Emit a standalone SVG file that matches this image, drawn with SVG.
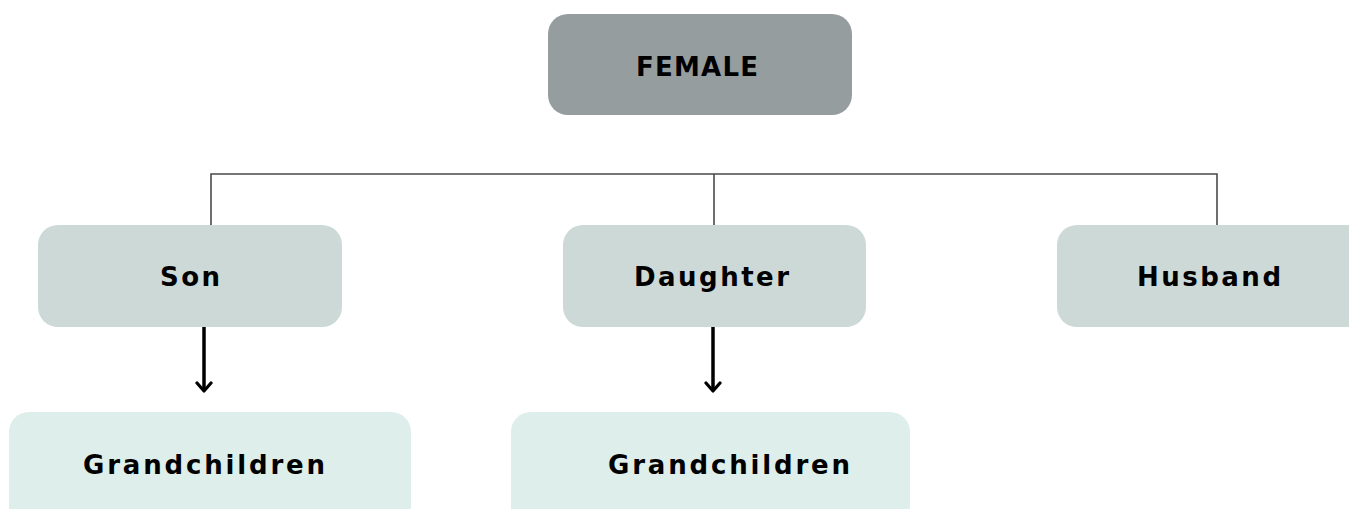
<svg xmlns="http://www.w3.org/2000/svg" width="1349" height="509" viewBox="0 0 1349 509">
<style>
.t{font-family:"DejaVu Sans","Open Sans",sans-serif;font-weight:700;fill:#000;font-size:26px;}
.conn{fill:none;stroke:#4a4a4a;stroke-width:1.6;}
.arr{fill:none;stroke:#000;stroke-width:3.5;}
.top{fill:#969d9f;}
.mid{fill:#cdd9d7;}
.low{fill:#deeeeb;}
</style>
<defs>
<marker id="chev" viewBox="0 0 14 18" refX="12" refY="9" markerWidth="14" markerHeight="18" markerUnits="userSpaceOnUse" orient="auto">
<path d="M4,2 L12,9 L4,16" fill="none" stroke="#000" stroke-width="3.2" stroke-linecap="round" stroke-linejoin="round"/>
</marker>
</defs>
<rect width="1349" height="509" fill="#fff"/>
<g id="connectors">
<path class="conn" d="M211,225 V174 H1217 V225 M714,174 V225"/>
<line class="arr" x1="204" y1="327" x2="204" y2="391" marker-end="url(#chev)"/>
<line class="arr" x1="713" y1="327" x2="713" y2="391" marker-end="url(#chev)"/>
</g>
<g id="female">
<rect class="top" x="548" y="14" width="304" height="101" rx="20"/>
<text class="t" x="636" y="76" textLength="122" lengthAdjust="spacing">FEMALE</text>
</g>
<g id="son">
<rect class="mid" x="38" y="225" width="304" height="102" rx="20"/>
<text class="t" x="160" y="286" textLength="60" lengthAdjust="spacing">Son</text>
</g>
<g id="daughter">
<rect class="mid" x="563" y="225" width="303" height="102" rx="20"/>
<text class="t" x="634" y="286" textLength="155" lengthAdjust="spacing">Daughter</text>
</g>
<g id="husband">
<rect class="mid" x="1057" y="225" width="312" height="102" rx="20"/>
<text class="t" x="1137" y="286" textLength="144" lengthAdjust="spacing">Husband</text>
</g>
<g id="grandchildren1">
<rect class="low" x="9" y="412" width="402" height="120" rx="20"/>
<text class="t" x="83" y="474" textLength="242" lengthAdjust="spacing">Grandchildren</text>
</g>
<g id="grandchildren2">
<rect class="low" x="511" y="412" width="399" height="120" rx="20"/>
<text class="t" x="608" y="474" textLength="242" lengthAdjust="spacing">Grandchildren</text>
</g>
</svg>
